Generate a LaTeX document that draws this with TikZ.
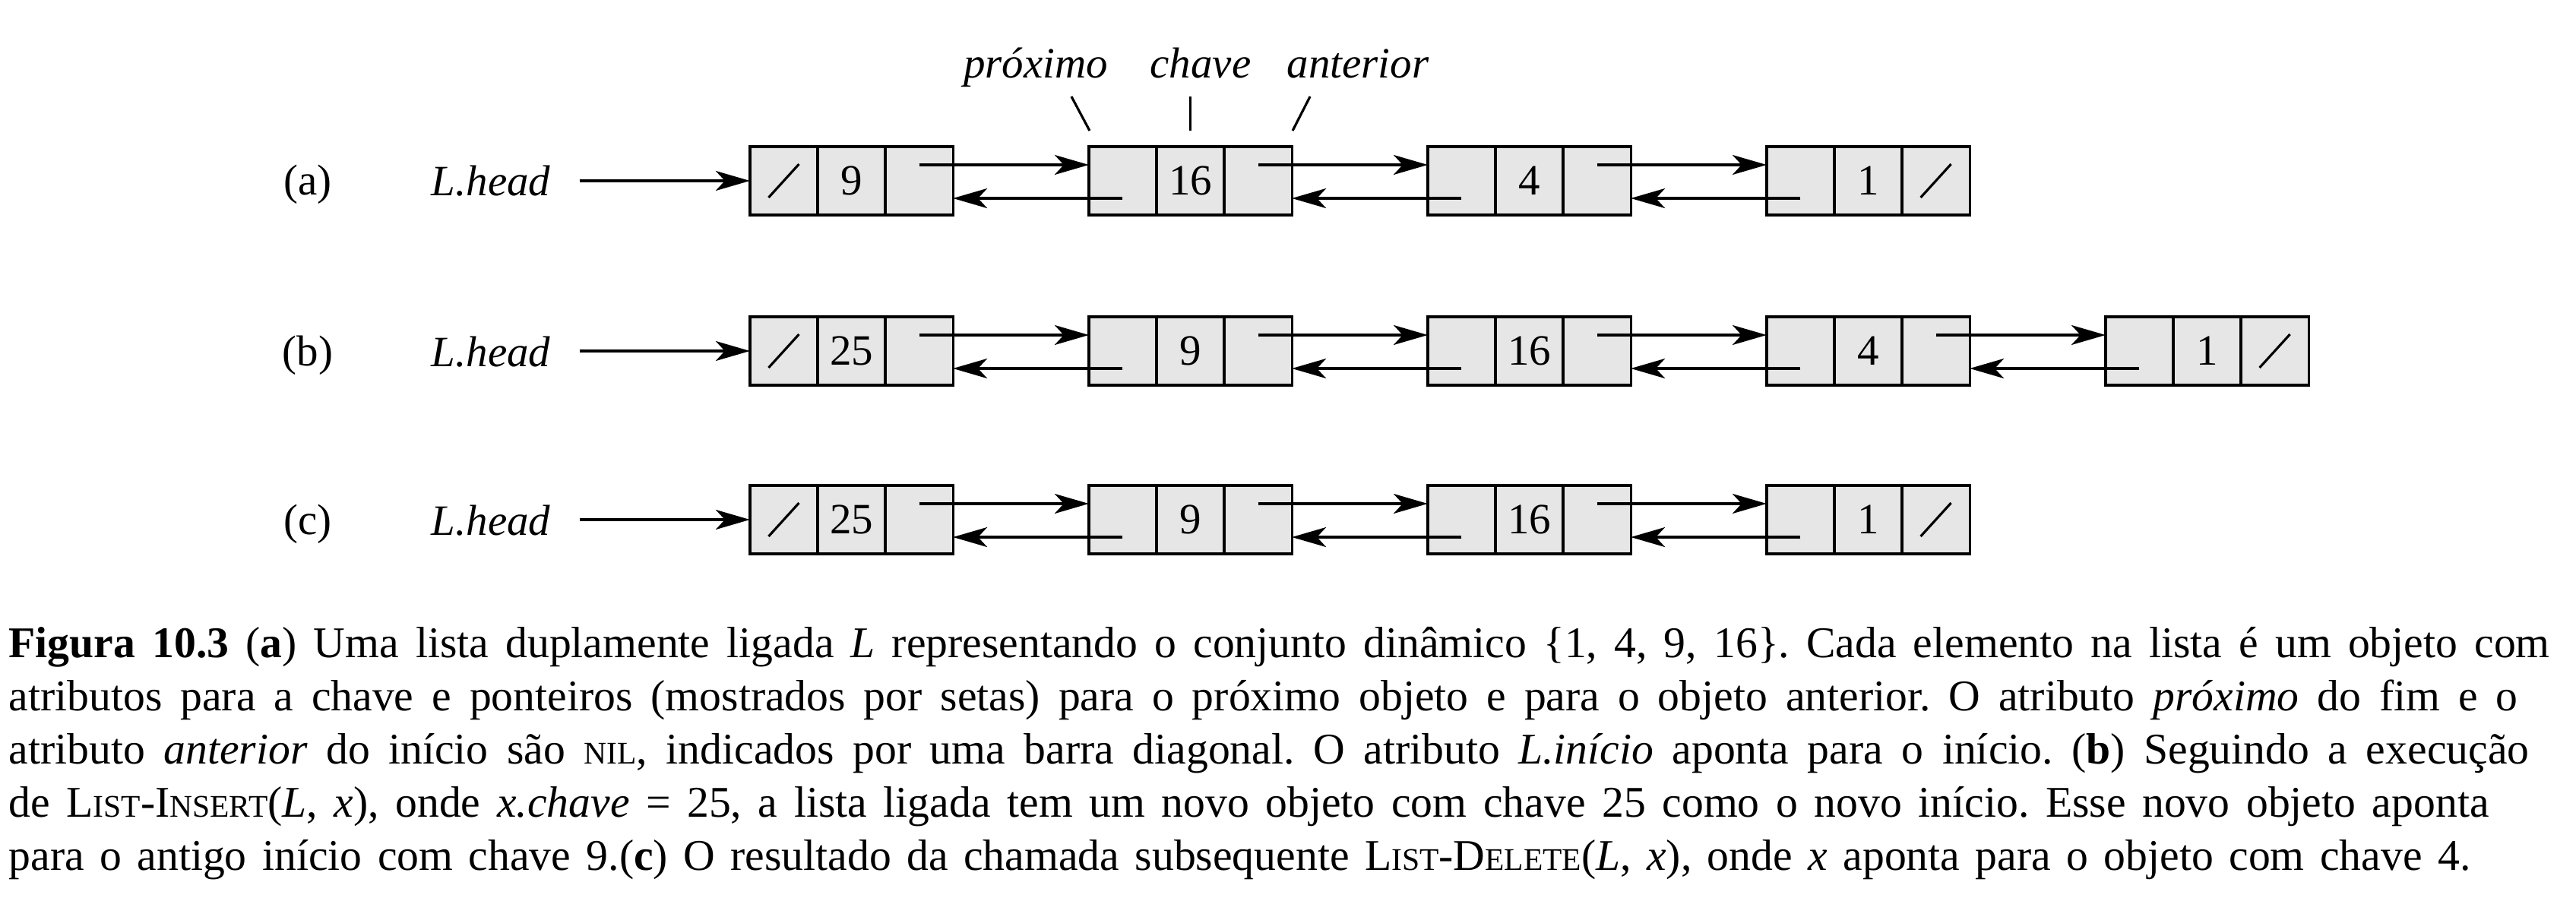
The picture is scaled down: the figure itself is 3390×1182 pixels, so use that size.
\documentclass[tikz,border=0pt]{standalone}
\usepackage{fontspec}
\setmainfont{Liberation Serif}
\usetikzlibrary{arrows.meta,positioning}

\definecolor{cellgray}{HTML}{E6E6E6}
\newcommand\smc[1]{{\fontsize{11.8}{11.8}\selectfont #1}}
\frenchspacing

\begin{document}
\begin{tikzpicture}[x=0.01cm, y=-0.01cm, line width=0.9pt,
    every node/.style={font=\fontsize{16.2}{19.6}\selectfont},
    cell/.style={draw, fill=cellgray, minimum width=0.89cm, minimum height=0.9cm, inner sep=0pt, outer sep=0pt},
    ptr/.style={-{Stealth[length=0.45cm, width=0.26cm, inset=0.12cm]}, line width=1pt},
    capline/.style={anchor=base west, inner sep=0pt, font=\fontsize{16.4}{19.6}\selectfont}]
  \useasboundingbox (0,0) rectangle (3390,1182);

  % --- as tres listas (a), (b), (c) ---
  \foreach \r/\y/\last/\keys in {a/238/4/{9,16,4,1}, b/462/5/{25,9,16,4,1}, c/684/4/{25,9,16,1}} {
    \node[anchor=base] (\r lab) at (405,\y+19) {(\r)};
    \node[anchor=base] (\r head) at (646,\y+20) {\textit{L.head}};
    \foreach \k [count=\i] in \keys {
      \node[cell] (\r\i k) at (1120.5+446*\i-446,\y) {\k};
      \node[cell, left=0pt of \r\i k] (\r\i p) {};
      \node[cell, right=0pt of \r\i k] (\r\i n) {};
      % ponteiros para o proximo e o anterior
      \ifnum\i>1
        \pgfmathtruncatemacro\j{\i-1}
        \draw[ptr] ([yshift=0.21cm]\r\j n.center) -- ([yshift=0.21cm]\r\i p.west);
        \draw[ptr] ([yshift=-0.23cm]\r\i p.center) -- ([yshift=-0.23cm]\r\j n.east);
      \fi
    }
    \draw[ptr] ([xshift=0.25cm]\r head.east |- \r 1p.west) -- (\r 1p.west);
    % barras diagonais (NIL)
    \draw ([shift={(-20,22)}]\r 1p.center) -- ++(40,-44);
    \draw ([shift={(-20,22)}]\r\last n.center) -- ++(40,-44);
  }

  % --- nomes dos campos ---
  \node[anchor=base] (prox) at (1363,103) {\textit{próximo}};
  \node[anchor=base] (chave) at (1580,103) {\textit{chave}};
  \node[anchor=base] (ant) at (1787,103) {\textit{anterior}};
  \draw (a2p.north west) ++(1,-21) -- ++(-24,-45);
  \draw (a2k.north) ++(0,-21) -- ++(0,-45);
  \draw (a2n.north east) ++(1,-21) -- ++(23,-45);

  % --- legenda ---
  \node[capline] (cap1) at (10,865) {\makebox[33.42cm][s]{\textbf{Figura 10.3} (\textbf{a}) Uma lista duplamente ligada \textit{L} representando o conjunto dinâmico \{1, 4, 9, 16\}. Cada elemento na lista é um objeto com}};
  \node[capline] (cap2) at (10,935) {\makebox[33.00cm][s]{atributos para a chave e ponteiros (mostrados por setas) para o próximo objeto e para o objeto anterior. O atributo \textit{próximo} do fim e o}};
  \node[capline] (cap3) at (10,1005) {\makebox[33.15cm][s]{atributo \textit{anterior} do início são \smc{NIL}, indicados por uma barra diagonal. O atributo \textit{L.início} aponta para o início. (\textbf{b}) Seguindo a execução}};
  \node[capline] (cap4) at (10,1075) {\makebox[32.62cm][s]{de L\smc{IST}-I\smc{NSERT}(\textit{L}, \textit{x}), onde \textit{x.chave} = 25, a lista ligada tem um novo objeto com chave 25 como o novo início. Esse novo objeto aponta}};
  \node[capline] (cap5) at (10,1145) {\makebox[32.38cm][s]{para o antigo início com chave 9.(\textbf{c}) O resultado da chamada subsequente L\smc{IST}-D\smc{ELETE}(\textit{L}, \textit{x}), onde \textit{x} aponta para o objeto com chave 4.}};
\end{tikzpicture}
\end{document}
